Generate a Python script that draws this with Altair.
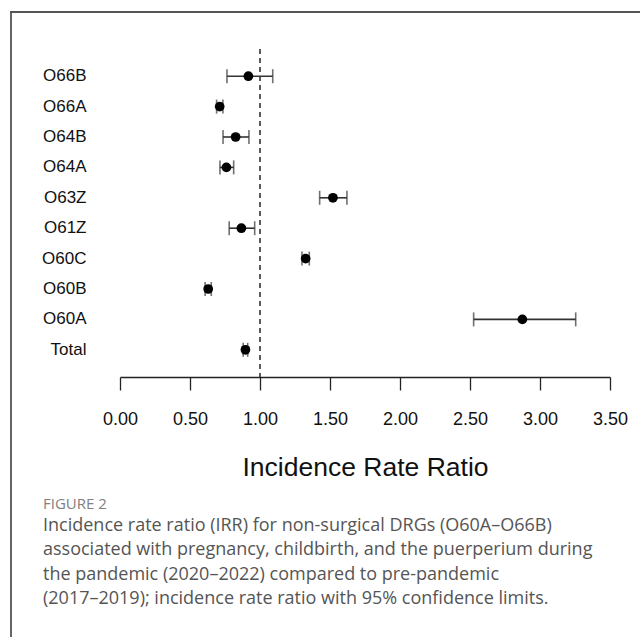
import altair as alt
import pandas as pd

categories = ["O66B", "O66A", "O64B", "O64A", "O63Z", "O61Z", "O60C", "O60B", "O60A", "Total"]
irr = [0.917, 0.712, 0.826, 0.760, 1.521, 0.867, 1.326, 0.630, 2.874, 0.896]
ci_low = [0.764, 0.690, 0.736, 0.714, 1.426, 0.780, 1.300, 0.608, 2.526, 0.880]
ci_high = [1.091, 0.735, 0.921, 0.812, 1.621, 0.962, 1.352, 0.652, 3.255, 0.912]
tick_values = [0.0, 0.5, 1.0, 1.5, 2.0, 2.5, 3.0, 3.5]
reference_line = [1.0]

axis_title = "Incidence Rate Ratio"
figure_label = "FIGURE 2"
caption_lines = [
    "Incidence rate ratio (IRR) for non-surgical DRGs (O60A\u2013O66B)",
    "associated with pregnancy, childbirth, and the puerperium during",
    "the pandemic (2020\u20132022) compared to pre-pandemic",
    "(2017\u20132019); incidence rate ratio with 95% confidence limits.",
]

df = pd.DataFrame({"cat": categories, "irr": irr, "lo": ci_low, "hi": ci_high})
ref_df = pd.DataFrame({"x": reference_line})
one = pd.DataFrame({"a": [0]})

FONT = "Liberation Sans"

x_scale = alt.Scale(domain=[0, 3.5], nice=False, zero=False)
y_scale = alt.Scale(domain=categories, paddingInner=0, paddingOuter=0)

x_axis = alt.Axis(
    values=tick_values, format=".2f", grid=False, offset=12,
    domainColor="#222", domainWidth=1.3, tickColor="#222", tickWidth=1.3,
    tickSize=13, labelFont=FONT, labelFontSize=18, labelColor="#111",
    labelPadding=20, labelFlush=False,
    title=axis_title, titleFont=FONT, titleFontSize=26.5, titleFontWeight="normal",
    titleColor="#111", titlePadding=26,
)
y_axis = alt.Axis(
    title=None, domain=False, ticks=False, tickSize=0, grid=False,
    labelFont=FONT, labelFontSize=17, labelColor="#111", labelPadding=34,
)

base = alt.Chart(df)

bars = base.mark_rule(color="#333", strokeWidth=1.6).encode(
    x=alt.X("lo:Q", scale=x_scale, axis=x_axis),
    x2="hi:Q",
    y=alt.Y("cat:N", scale=y_scale, axis=y_axis, sort=categories),
)
cap_lo = base.mark_tick(color="#333", thickness=1.6, size=14, orient="vertical").encode(
    x=alt.X("lo:Q", scale=x_scale), y=alt.Y("cat:N", scale=y_scale, sort=categories)
)
cap_hi = base.mark_tick(color="#333", thickness=1.6, size=14, orient="vertical").encode(
    x=alt.X("hi:Q", scale=x_scale), y=alt.Y("cat:N", scale=y_scale, sort=categories)
)
dots = base.mark_point(filled=True, color="#000", size=95, opacity=1).encode(
    x=alt.X("irr:Q", scale=x_scale), y=alt.Y("cat:N", scale=y_scale, sort=categories)
)
ref = alt.Chart(ref_df).mark_rule(color="#333", strokeWidth=1.6, strokeDash=[5, 4]).encode(
    x=alt.X("x:Q", scale=x_scale), y=alt.value(-12), y2=alt.value(316)
)

frame_left = alt.Chart(one).mark_rule(color="#555", strokeWidth=1.8).encode(
    x=alt.value(-109), y=alt.value(-49), y2=alt.value(580)
)
frame_top = alt.Chart(one).mark_rule(color="#555", strokeWidth=1.8).encode(
    x=alt.value(-110), x2=alt.value(525), y=alt.value(-49)
)

fig_label = alt.Chart(one).mark_text(
    text=figure_label, font="Open Sans", fontSize=15, color="#808080",
    align="left", baseline="middle",
).encode(x=alt.value(-77), y=alt.value(443))

caption = alt.Chart(one).mark_text(
    text=caption_lines, font="Open Sans", fontSize=18, color="#555",
    align="left", baseline="top", lineHeight=24.3,
).encode(x=alt.value(-77), y=alt.value(456))

chart = alt.layer(
    frame_left, frame_top, ref, bars, cap_lo, cap_hi, dots, fig_label, caption
).properties(
    width=490, height=304,
    autosize=alt.AutoSizeParams(type="none"),
    padding={"left": 120, "top": 61, "right": 30, "bottom": 272},
).configure(
    background="white", view=alt.ViewConfig(stroke="transparent", strokeWidth=0)
)

chart.save("out.html", embed_options={"renderer": "svg", "actions": False})
